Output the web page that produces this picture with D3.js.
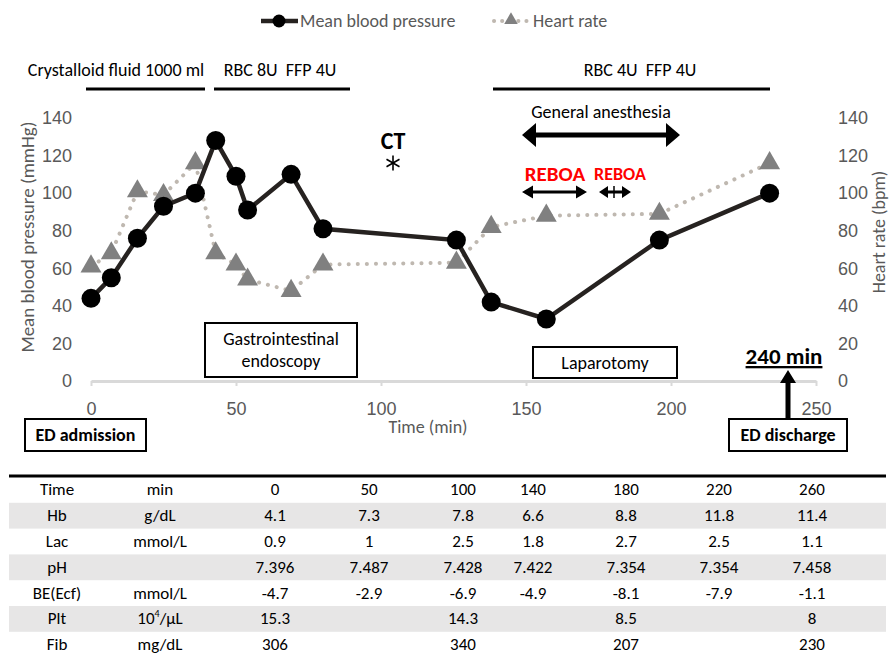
<!DOCTYPE html>
<html>
<head>
<meta charset="utf-8">
<script src="https://cdn.jsdelivr.net/npm/d3@7"></script>
<style>
  body { margin: 0; background: #fff; }
  svg { font-family: Carlito, Calibri, Lato, sans-serif; }
</style>
</head>
<body>
<script>
// Vital signs over time
const mbpTime = [0, 7, 16, 25, 36, 43, 50, 54, 69, 80, 126, 138, 157, 196, 234];
const mbp = [44, 55, 76, 93, 100, 128, 109, 91, 110, 81, 75, 42, 33, 75, 100];
const hrTime = [0, 7, 16, 25, 36, 43, 50, 54, 69, 80, 126, 138, 157, 196, 234];
const hr = [61, 68, 101, 99, 116, 68, 62, 54, 48, 62, 63, 82, 88, 89, 116];

const xTicks = [0, 50, 100, 150, 200, 250];
const yTicks = [0, 20, 40, 60, 80, 100, 120, 140];

// Lab table
const tableHeader = ['Time', 'min', '0', '50', '100', '140', '180', '220', '260'];
const tableLabels = ['Hb', 'Lac', 'pH', 'BE(Ecf)', 'Plt', 'Fib'];
const tableUnits = ['g/dL', 'mmol/L', '', 'mmol/L', '10^4/μL', 'mg/dL'];
const hbValues = ['4.1', '7.3', '7.8', '6.6', '8.8', '11.8', '11.4'];
const lacValues = ['0.9', '1', '2.5', '1.8', '2.7', '2.5', '1.1'];
const phValues = ['7.396', '7.487', '7.428', '7.422', '7.354', '7.354', '7.458'];
const beValues = ['-4.7', '-2.9', '-6.9', '-4.9', '-8.1', '-7.9', '-1.1'];
const pltValues = ['15.3', '', '14.3', '', '8.5', '', '8'];
const fibValues = ['306', '', '340', '', '207', '', '230'];

const grey = '#595959';

const svg = d3.select('body').append('svg')
    .attr('width', 892)
    .attr('height', 656);

const x = d3.scaleLinear().domain([0, 250]).range([91, 816]);
const y = d3.scaleLinear().domain([0, 140]).range([381, 118]);

// Left axis labels
const leftAxis = svg.append('g')
    .attr('transform', 'translate(78,0)')
    .call(d3.axisLeft(y).tickValues(yTicks).tickSize(0).tickPadding(6));
leftAxis.select('.domain').remove();
leftAxis.selectAll('text')
    .attr('font-size', 18)
    .attr('font-family', null)
    .attr('fill', grey);

// Right axis labels
const rightAxis = svg.append('g')
    .attr('transform', 'translate(832,0)')
    .call(d3.axisRight(y).tickValues(yTicks).tickSize(0).tickPadding(6));
rightAxis.select('.domain').remove();
rightAxis.selectAll('text')
    .attr('font-size', 18)
    .attr('font-family', null)
    .attr('fill', grey);

// X axis
const xAxis = svg.append('g')
    .attr('transform', 'translate(0,381)')
    .call(d3.axisBottom(x).tickValues(xTicks).tickSize(5).tickSizeOuter(0).tickPadding(16));
xAxis.select('.domain')
    .attr('stroke', '#d9d9d9')
    .attr('stroke-width', 3);
xAxis.selectAll('.tick line')
    .attr('stroke', '#d9d9d9')
    .attr('stroke-width', 2);
xAxis.selectAll('text')
    .attr('font-size', 18)
    .attr('font-family', null)
    .attr('fill', grey);

// Axis titles
svg.append('text')
    .attr('transform', 'translate(34,237) rotate(-90)')
    .attr('text-anchor', 'middle')
    .attr('font-size', 19)
    .attr('fill', grey)
    .text('Mean blood pressure (mmHg)');

svg.append('text')
    .attr('transform', 'translate(885,232) rotate(-90)')
    .attr('text-anchor', 'middle')
    .attr('font-size', 18)
    .attr('fill', grey)
    .text('Heart rate (bpm)');

svg.append('text')
    .attr('x', 428)
    .attr('y', 433)
    .attr('text-anchor', 'middle')
    .attr('font-size', 18)
    .attr('fill', grey)
    .text('Time (min)');

// Heart rate series
const hrData = hrTime.map((t, i) => ({t: t, v: hr[i]}));
svg.append('path')
    .datum(hrData)
    .attr('d', d3.line().x(d => x(d.t)).y(d => y(d.v)))
    .attr('fill', 'none')
    .attr('stroke', '#bfb8b0')
    .attr('stroke-width', 4)
    .attr('stroke-linecap', 'round')
    .attr('stroke-dasharray', '0.1 9');
svg.append('g').selectAll('path')
    .data(hrData).enter()
    .append('path')
    .attr('d', d3.symbol(d3.symbolTriangle, 190))
    .attr('transform', d => `translate(${x(d.t)},${y(d.v)})`)
    .attr('fill', '#808080');

// Mean blood pressure series
const mbpData = mbpTime.map((t, i) => ({t: t, v: mbp[i]}));
svg.append('path')
    .datum(mbpData)
    .attr('d', d3.line().x(d => x(d.t)).y(d => y(d.v)))
    .attr('fill', 'none')
    .attr('stroke', '#262220')
    .attr('stroke-width', 4.5);
svg.append('g').selectAll('circle')
    .data(mbpData).enter()
    .append('circle')
    .attr('cx', d => x(d.t))
    .attr('cy', d => y(d.v))
    .attr('r', 9.5)
    .attr('fill', '#000');

// Legend
const legend = svg.append('g');
legend.append('line')
    .attr('x1', 261).attr('x2', 298)
    .attr('y1', 21).attr('y2', 21)
    .attr('stroke', '#262220')
    .attr('stroke-width', 4.5);
legend.append('circle')
    .attr('cx', 279).attr('cy', 21).attr('r', 6.5)
    .attr('fill', '#000');
legend.append('text')
    .attr('x', 300).attr('y', 27)
    .attr('font-size', 18)
    .attr('fill', grey)
    .text('Mean blood pressure');
legend.append('line')
    .attr('x1', 494).attr('x2', 528)
    .attr('y1', 21).attr('y2', 21)
    .attr('stroke', '#bfb8b0')
    .attr('stroke-width', 4)
    .attr('stroke-linecap', 'round')
    .attr('stroke-dasharray', '0.1 8');
legend.append('path')
    .attr('d', d3.symbol(d3.symbolTriangle, 80))
    .attr('transform', 'translate(511,20)')
    .attr('fill', '#808080');
legend.append('text')
    .attr('x', 533).attr('y', 27)
    .attr('font-size', 18)
    .attr('fill', grey)
    .text('Heart rate');

// Transfusion bars
const bars = [
    {x1: 86, x2: 205, label: 'Crystalloid fluid 1000 ml', lx: 116},
    {x1: 214, x2: 350, label: 'RBC 8U\u00a0\u00a0FFP 4U', lx: 280},
    {x1: 493, x2: 770, label: 'RBC 4U\u00a0\u00a0FFP 4U', lx: 640}
];
bars.forEach(b => {
    svg.append('line')
        .attr('x1', b.x1).attr('x2', b.x2)
        .attr('y1', 89).attr('y2', 89)
        .attr('stroke', '#000')
        .attr('stroke-width', 3);
    svg.append('text')
        .attr('x', b.lx).attr('y', 76)
        .attr('text-anchor', 'middle')
        .attr('font-size', 18)
        .text(b.label);
});

// Arrow helpers
function hArrow(x1, x2, cy, shaft, headLen, headHalf) {
    const s = shaft / 2;
    return `M${x1},${cy} L${x1 + headLen},${cy - headHalf} L${x1 + headLen},${cy - s} ` +
        `L${x2 - headLen},${cy - s} L${x2 - headLen},${cy - headHalf} L${x2},${cy} ` +
        `L${x2 - headLen},${cy + headHalf} L${x2 - headLen},${cy + s} L${x1 + headLen},${cy + s} ` +
        `L${x1 + headLen},${cy + headHalf} Z`;
}

svg.append('text')
    .attr('x', 601).attr('y', 118)
    .attr('text-anchor', 'middle')
    .attr('font-size', 18)
    .text('General anesthesia');
svg.append('path')
    .attr('d', hArrow(522, 680, 135, 5, 14, 12))
    .attr('fill', '#000');

svg.append('text')
    .attr('x', 555).attr('y', 181)
    .attr('text-anchor', 'middle')
    .attr('font-size', 21)
    .attr('font-weight', 'bold')
    .attr('fill', '#ff0000')
    .text('REBOA');
svg.append('text')
    .attr('x', 620).attr('y', 180)
    .attr('text-anchor', 'middle')
    .attr('font-size', 18)
    .attr('font-weight', 'bold')
    .attr('fill', '#ff0000')
    .text('REBOA');
svg.append('path')
    .attr('d', hArrow(522, 587, 192, 3, 11, 6.5))
    .attr('fill', '#000');
svg.append('path')
    .attr('d', hArrow(599, 631, 192, 3, 9, 6))
    .attr('fill', '#000');
svg.append('line')
    .attr('x1', 614).attr('x2', 614)
    .attr('y1', 186).attr('y2', 198)
    .attr('stroke', '#000')
    .attr('stroke-width', 1.5);

// CT mark
svg.append('text')
    .attr('x', 393).attr('y', 149)
    .attr('text-anchor', 'middle')
    .attr('font-size', 24)
    .attr('font-weight', 'bold')
    .text('CT');
const star = svg.append('g')
    .attr('transform', 'translate(393,163)');
[90, 30, 150].forEach(a => {
    const r = 7.5, rad = a * Math.PI / 180;
    star.append('line')
        .attr('x1', -r * Math.cos(rad)).attr('y1', -r * Math.sin(rad))
        .attr('x2', r * Math.cos(rad)).attr('y2', r * Math.sin(rad))
        .attr('stroke', '#000')
        .attr('stroke-width', 1.6);
});

// Procedure boxes
const boxes = [
    {x: 205, y: 323, w: 152, h: 54, lines: ['Gastrointestinal', 'endoscopy'], bold: false},
    {x: 533, y: 347, w: 144, h: 31, lines: ['Laparotomy'], bold: false},
    {x: 25, y: 419, w: 121, h: 32, lines: ['ED admission'], bold: true},
    {x: 729, y: 419, w: 118, h: 32, lines: ['ED discharge'], bold: true}
];
boxes.forEach(b => {
    svg.append('rect')
        .attr('x', b.x).attr('y', b.y)
        .attr('width', b.w).attr('height', b.h)
        .attr('fill', '#fff')
        .attr('stroke', '#000')
        .attr('stroke-width', 2);
    const n = b.lines.length;
    b.lines.forEach((l, i) => {
        svg.append('text')
            .attr('x', b.x + b.w / 2)
            .attr('y', b.y + b.h / 2 + 6 + (i - (n - 1) / 2) * 22)
            .attr('text-anchor', 'middle')
            .attr('font-size', 18)
            .attr('font-weight', b.bold ? 'bold' : null)
            .text(l);
    });
});

// ED discharge time
svg.append('text')
    .attr('x', 784).attr('y', 364)
    .attr('text-anchor', 'middle')
    .attr('font-size', 23)
    .attr('font-weight', 'bold')
    .attr('text-decoration', 'underline')
    .text('240 min');
svg.append('path')
    .attr('d', 'M788,370 L796,383 L790.5,383 L790.5,419 L785.5,419 L785.5,383 L780,383 Z')
    .attr('fill', '#000');

// Lab table
const colX = [57, 160, 275, 369, 463, 533, 626, 719, 812];
const rowH = 25.8;
const tableTop = 477;
const rows = [tableHeader].concat(tableLabels.map((l, i) =>
    [l, tableUnits[i]].concat([hbValues, lacValues, phValues, beValues, pltValues, fibValues][i])));

const table = svg.append('g');
table.selectAll('rect.shade')
    .data(rows).enter()
    .filter((d, i) => i % 2 === 1)
    .append('rect')
    .attr('class', 'shade')
    .attr('x', 9)
    .attr('y', d => tableTop + rows.indexOf(d) * rowH)
    .attr('width', 877)
    .attr('height', rowH)
    .attr('fill', '#e7e6e6');

table.append('line')
    .attr('x1', 9).attr('x2', 886)
    .attr('y1', 476).attr('y2', 476)
    .attr('stroke', '#000')
    .attr('stroke-width', 3);

rows.forEach((row, r) => {
    row.forEach((cell, c) => {
        const t = table.append('text')
            .attr('x', colX[c])
            .attr('y', tableTop + r * rowH + rowH / 2 + 5.5)
            .attr('text-anchor', 'middle')
            .attr('font-size', 17);
        if (cell.indexOf('^') >= 0) {
            const parts = cell.split(/\^(\d)/);
            t.append('tspan').text(parts[0]);
            t.append('tspan').attr('font-size', 10).attr('dy', -7).text(parts[1]);
            t.append('tspan').attr('dy', 7).text(parts[2]);
        } else {
            t.text(cell);
        }
    });
});
</script>
</body>
</html>
